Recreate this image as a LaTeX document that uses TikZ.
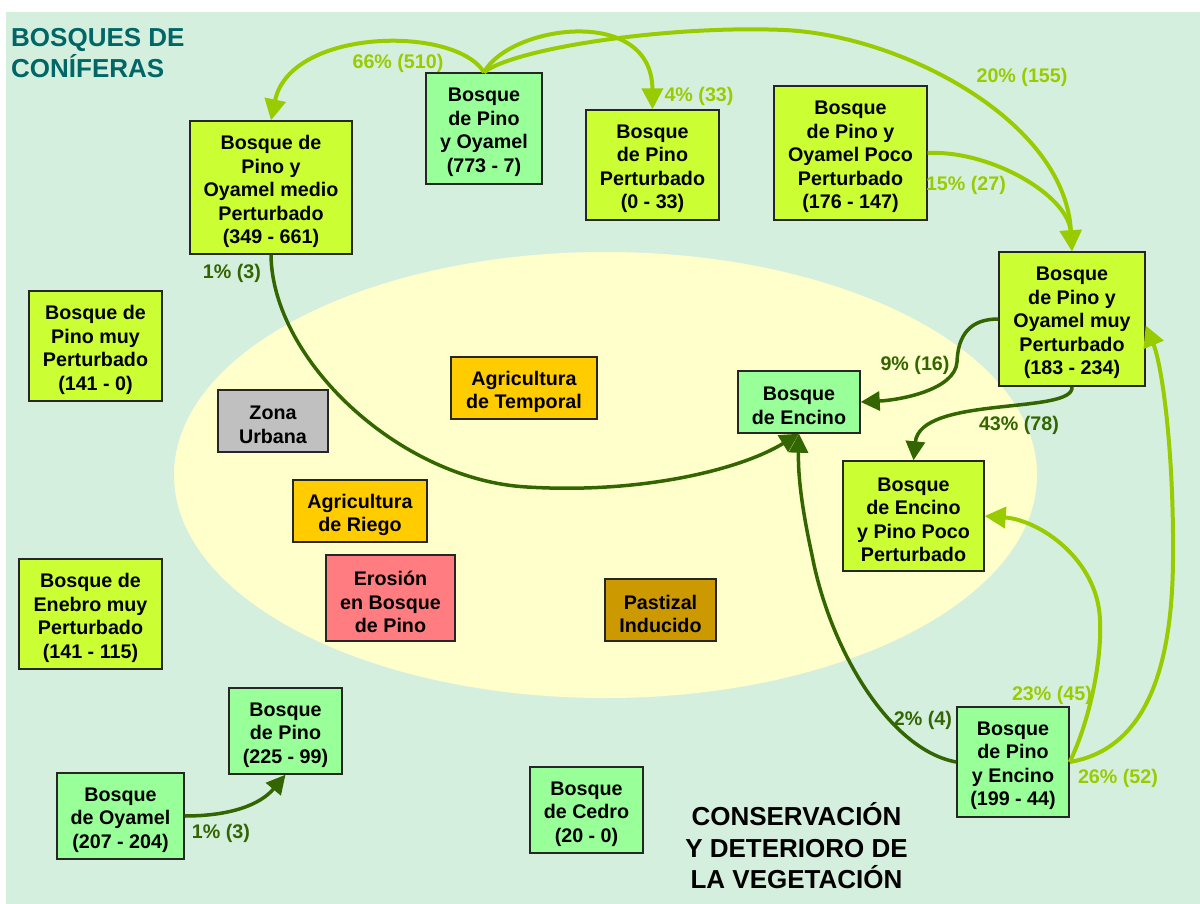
\documentclass[tikz,border=0pt]{standalone}
\usepackage{fontspec}
\setmainfont{Liberation Sans}
\usetikzlibrary{arrows.meta}
\definecolor{bgc}{HTML}{D5EFDF}
\definecolor{ellc}{HTML}{FFFFCC}
\definecolor{boxg}{HTML}{99FF99}
\definecolor{boxy}{HTML}{CCFF33}
\definecolor{boxgray}{HTML}{C0C0C0}
\definecolor{boxo}{HTML}{FFCC00}
\definecolor{boxp}{HTML}{FF7C80}
\definecolor{boxb}{HTML}{CC9900}
\definecolor{arrl}{HTML}{99CC00}
\definecolor{arrd}{HTML}{336600}
\definecolor{titc}{HTML}{006666}
\newcommand{\bx}[7]{%
  \node[#1, minimum width=#5pt, minimum height=#6pt] (#2) at (#3,#4) {};
  \node[boxtxt] (#2t) at ([yshift=-4pt]#2.center) {#7};}
\begin{document}
\begin{tikzpicture}[x=1pt,y=-1pt,
  box/.style={draw=black!85, line width=1.4pt, inner sep=0pt},
  boxtxt/.style={align=center, inner sep=0pt,
    font=\fontsize{19.7}{23.5}\selectfont\bfseries},
  gbox/.style={box, fill=boxg},
  ybox/.style={box, fill=boxy},
  lite/.style={draw=arrl, line width=4pt, -{Triangle[length=21pt,width=21pt]}},
  dark/.style={draw=arrd, line width=3.5pt, -{Triangle[length=19pt,width=19pt]}},
  lbl/.style={font=\fontsize{19.7}{23.5}\selectfont\bfseries, inner sep=0pt},
  litelbl/.style={lbl, text=arrl},
  darklbl/.style={lbl, text=arrd},
  bigt/.style={font=\fontsize{26}{31.5}\selectfont\bfseries, inner sep=0pt}
]
\useasboundingbox (0,0) rectangle (1200,904);
\fill[white] (0,0) rectangle (1200,904);
\fill[bgc] (6,12) rectangle (1200,904);
\fill[ellc] (605.5,475) ellipse [x radius=431.5pt, y radius=223pt];

% title
\node[bigt, text=titc, align=left, anchor=north west] (title) at (11,28) {BOSQUES DE\\CONÍFERAS};
\node[bigt, text=black, align=center] (cons) at (796.5,846) {CONSERVACIÓN\\Y DETERIORO DE\\LA VEGETACIÓN};

% boxes
\bx{gbox}{pyo}{484}{128.5}{116}{111}{Bosque\\de Pino\\y Oyamel\\(773 - 7)}
\bx{ybox}{medio}{271}{187.5}{162}{133}{Bosque de\\Pino y\\Oyamel medio\\Perturbado\\(349 - 661)}
\bx{ybox}{pp}{652.5}{165}{133}{110}{Bosque\\de Pino\\Perturbado\\(0 - 33)}
\bx{ybox}{poco}{850.5}{153}{153}{134}{Bosque\\de Pino y\\Oyamel Poco\\Perturbado\\(176 - 147)}
\bx{ybox}{muy}{1072}{319}{146}{134}{Bosque\\de Pino y\\Oyamel muy\\Perturbado\\(183 - 234)}
\bx{gbox}{encino}{799}{402}{122}{62}{Bosque\\de Encino}
\bx{ybox}{epp}{913.5}{516}{141}{110}{Bosque\\de Encino\\y Pino Poco\\Perturbado}
\bx{gbox}{pye}{1013}{762}{112}{110}{Bosque\\de Pino\\y Encino\\(199 - 44)}
\bx{ybox}{pmp}{95.5}{346}{133}{110}{Bosque de\\Pino muy\\Perturbado\\(141 - 0)}
\bx{ybox}{enebro}{90.5}{614}{143}{110}{Bosque de\\Enebro muy\\Perturbado\\(141 - 115)}
\bx{gbox}{pino}{285.5}{731}{113}{86}{Bosque\\de Pino\\(225 - 99)}
\bx{gbox}{oyamel}{120.5}{816}{127}{86}{Bosque\\de Oyamel\\(207 - 204)}
\bx{gbox}{cedro}{586.5}{810}{113}{86}{Bosque\\de Cedro\\(20 - 0)}
\bx{box, fill=boxgray}{urbana}{273}{421}{110}{62}{Zona\\Urbana}
\bx{box, fill=boxo}{temporal}{524}{388}{146}{62}{Agricultura\\de Temporal}
\bx{box, fill=boxo}{riego}{360}{511}{134}{62}{Agricultura\\de Riego}
\bx{box, fill=boxp}{erosion}{390.5}{598}{129}{86}{Erosión\\en Bosque\\de Pino}
\bx{box, fill=boxb}{pastizal}{660.5}{610}{111}{62}{Pastizal\\Inducido}

% light arrows
\draw[lite] (pyo.north) .. controls (455,25) and (290,28) .. (medio.north);
\draw[lite] (pyo.north) .. controls (510,25) and (652,5) .. (pp.north);
\draw[lite] (pyo.north) .. controls (515,48) and (670,25) .. (784,30)
   .. controls (900,35) and (1065,120) .. (muy.north);
\draw[lite] (poco.east) .. controls (990,150) and (1068,195) .. (muy.north);
\draw[lite] (pye.east) .. controls (1090,720) and (1102,660) .. (1100,620)
   .. controls (1098,560) and (1040,520) .. (epp.east);
\draw[lite] (pye.east) .. controls (1140,750) and (1172,680) .. (1173,560)
   .. controls (1174,450) and (1162,365) .. (muy.-5);

% dark arrows
\draw[dark] (medio.south) .. controls (272,360) and (400,480) .. (527,487)
   .. controls (640,494) and (740,470) .. (encino.south);
\draw[dark] (muy.west) .. controls (970,319) and (958,335) .. (957,362)
   .. controls (955,390) and (900,400) .. (encino.east);
\draw[dark] (muy.south) .. controls (1075,415) and (920,395) .. (epp.north);
\draw[dark] (pye.west) .. controls (890,750) and (830,650) .. (812,555)
   .. controls (800,500) and (798,470) .. (encino.south);
\draw[dark] (oyamel.east) .. controls (230,816) and (260,805) .. (pino.south);

% labels
\node[litelbl] (l66) at (398,63) {66\% (510)};
\node[litelbl] (l4) at (699,96) {4\% (33)};
\node[litelbl] (l20) at (1022,77) {20\% (155)};
\node[litelbl] (l15) at (966,185) {15\% (27)};
\node[litelbl] (l23) at (1052,695) {23\% (45)};
\node[litelbl] (l26) at (1118,778) {26\% (52)};
\node[darklbl] (l1a) at (232,273) {1\% (3)};
\node[darklbl] (l9) at (915,365) {9\% (16)};
\node[darklbl] (l43) at (1019,425) {43\% (78)};
\node[darklbl] (l2) at (923,720) {2\% (4)};
\node[darklbl] (l1b) at (221,833) {1\% (3)};
\end{tikzpicture}
\end{document}
